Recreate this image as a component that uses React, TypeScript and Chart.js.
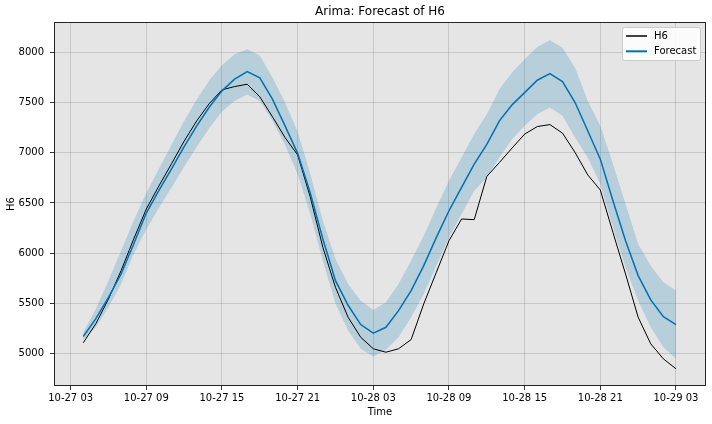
import { useEffect, useRef } from "react";
import { Chart, registerables } from "chart.js";

Chart.register(...registerables);

// hours counted from 10-27 00:00
const hours = [
  4, 5, 6, 7, 8, 9, 10, 11, 12, 13, 14, 15, 16, 17, 18, 19, 20, 21, 22, 23,
  24, 25, 26, 27, 28, 29, 30, 31, 32, 33, 34, 35, 36, 37, 38, 39, 40, 41, 42, 43,
  44, 45, 46, 47, 48, 49, 50, 51,
];

const h6 = [
  5110, 5300, 5545, 5827, 6142, 6440, 6670, 6890, 7115, 7317, 7490, 7625, 7658, 7681, 7556, 7358,
  7151, 6978, 6560, 6059, 5661, 5364, 5165, 5050, 5016, 5050, 5142, 5497, 5811, 6125, 6341, 6334,
  6764, 6903, 7046, 7185, 7260, 7280, 7195, 7002, 6780, 6629, 6208, 5794, 5364, 5099, 4950, 4851,
];

const forecast = [
  5172, 5350, 5562, 5794, 6092, 6400, 6625, 6840, 7060, 7267, 7455, 7615, 7731, 7807, 7744, 7532,
  7267, 6994, 6600, 6142, 5728, 5483, 5291, 5205, 5264, 5430, 5629, 5877, 6158, 6423, 6655, 6887,
  7082, 7317, 7476, 7598, 7721, 7787, 7708, 7499, 7218, 6936, 6522, 6125, 5778, 5536, 5370, 5291,
];

const upper = [
  5215, 5445, 5728, 6026, 6323, 6600, 6840, 7080, 7315, 7530, 7720, 7870, 7979, 8029, 7966, 7747,
  7500, 7208, 6790, 6324, 5943, 5695, 5529, 5437, 5513, 5695, 5927, 6175, 6456, 6721, 6953, 7185,
  7383, 7632, 7797, 7930, 8052, 8118, 8045, 7846, 7516, 7268, 6887, 6490, 6092, 5877, 5711, 5629,
];

const lower = [
  5140, 5265, 5463, 5695, 5993, 6240, 6450, 6655, 6860, 7060, 7245, 7410, 7515, 7580, 7515, 7317,
  7077, 6787, 6390, 5926, 5497, 5231, 5050, 4973, 5040, 5165, 5364, 5596, 5877, 6158, 6390, 6622,
  6754, 6953, 7135, 7267, 7383, 7450, 7367, 7151, 6953, 6688, 6257, 5860, 5529, 5265, 5066, 4950,
];

const xTickHours = [3, 9, 15, 21, 27, 33, 39, 45, 51];
const xTickLabels = [
  "10-27 03", "10-27 09", "10-27 15", "10-27 21", "10-28 03",
  "10-28 09", "10-28 15", "10-28 21", "10-29 03",
];
const yTicks = [5000, 5500, 6000, 6500, 7000, 7500, 8000];

const FONT = "'DejaVu Sans', sans-serif";
const BLUE = "#0072B2";

const toPts = (vals: number[]) => vals.map((v, i) => ({ x: hours[i], y: v }));

const decor = {
  id: "decor",
  beforeDraw(chart: any) {
    const { ctx, chartArea: a } = chart;
    ctx.save();
    ctx.fillStyle = "#ffffff";
    ctx.fillRect(0, 0, chart.width, chart.height);
    ctx.fillStyle = "#e5e5e5";
    ctx.fillRect(a.left, a.top, a.right - a.left, a.bottom - a.top);
    ctx.restore();
  },
  afterDraw(chart: any) {
    const { ctx, chartArea: a } = chart;
    ctx.save();
    // frame
    ctx.strokeStyle = "#262626";
    ctx.lineWidth = 1;
    ctx.strokeRect(a.left + 0.5, a.top + 0.5, a.right - a.left - 1, a.bottom - a.top - 1);
    // title
    ctx.fillStyle = "#000";
    ctx.font = `12px ${FONT}`;
    ctx.textAlign = "center";
    ctx.textBaseline = "middle";
    ctx.fillText("Arima: Forecast of H6", (a.left + a.right) / 2, 12);
    // legend
    const items = chart.data.datasets.filter((d: any) => d.showInLegend);
    const bx = 622.5, by = 27.5, bw = 78, bh = 33;
    ctx.fillStyle = "rgba(255,255,255,0.85)";
    ctx.strokeStyle = "#cccccc";
    ctx.beginPath();
    ctx.roundRect(bx, by, bw, bh, 2);
    ctx.fill();
    ctx.stroke();
    ctx.font = `10px ${FONT}`;
    ctx.textAlign = "left";
    items.forEach((d: any, i: number) => {
      const y = 36 + i * 15.3;
      ctx.strokeStyle = d.borderColor;
      ctx.lineWidth = d.borderWidth + 0.5;
      ctx.beginPath();
      ctx.moveTo(626, y);
      ctx.lineTo(647, y);
      ctx.stroke();
      ctx.fillStyle = "#000";
      ctx.fillText(d.label, 654, y);
    });
    ctx.restore();
  },
};

export default function App() {
  const ref = useRef<HTMLCanvasElement | null>(null);

  useEffect(() => {
    document.body.style.margin = "0";
    if (!ref.current) return;
    const chart = new Chart(ref.current, {
      type: "line",
      data: {
        datasets: [
          {
            label: "upper",
            data: toPts(upper),
            borderColor: "transparent",
            borderWidth: 0,
            pointRadius: 0,
            fill: false,
            order: 10,
          },
          {
            label: "lower",
            data: toPts(lower),
            borderColor: "transparent",
            borderWidth: 0,
            pointRadius: 0,
            backgroundColor: "rgba(0,114,178,0.2)",
            fill: "-1",
            order: 10,
          },
          {
            label: "H6",
            data: toPts(h6),
            borderColor: "#000000",
            borderWidth: 1,
            pointRadius: 0,
            fill: false,
            order: 2,
            showInLegend: true,
          } as any,
          {
            label: "Forecast",
            data: toPts(forecast),
            borderColor: BLUE,
            borderWidth: 1.5,
            pointRadius: 0,
            fill: false,
            order: 1,
            showInLegend: true,
          } as any,
        ],
      },
      options: {
        responsive: false,
        animation: false,
        events: [],
        layout: { padding: { left: 0, right: 6, top: 22, bottom: 0 } },
        plugins: {
          legend: { display: false },
          title: { display: false },
          tooltip: { enabled: false },
        },
        scales: {
          x: {
            type: "linear",
            min: 1.68,
            max: 53.38,
            afterBuildTicks: (s: any) => {
              s.ticks = xTickHours.map((v) => ({ value: v }));
            },
            afterFit: (s: any) => {
              s.height = 38;
            },
            ticks: {
              autoSkip: false,
              maxRotation: 0,
              padding: 2,
              color: "#000",
              font: { family: FONT, size: 10 },
              callback: (v: any) => {
                const i = xTickHours.indexOf(Number(v));
                return i >= 0 ? xTickLabels[i] : "";
              },
            },
            grid: {
              color: "rgba(128,128,128,0.3)",
              tickColor: "#333",
              tickLength: 4,
              lineWidth: 1,
            },
            border: { display: false },
            title: {
              display: true,
              text: "Time",
              color: "#000",
              font: { family: FONT, size: 10 },
              padding: { top: 0, bottom: 6 },
            },
          },
          y: {
            type: "linear",
            min: 4680,
            max: 8300,
            afterBuildTicks: (s: any) => {
              s.ticks = yTicks.map((v) => ({ value: v }));
            },
            afterFit: (s: any) => {
              s.width = 54;
            },
            ticks: {
              padding: 6,
              color: "#000",
              font: { family: FONT, size: 10 },
              callback: (v: any) => String(v),
            },
            grid: {
              color: "rgba(128,128,128,0.3)",
              tickColor: "#333",
              tickLength: 4,
              lineWidth: 1,
            },
            border: { display: false },
            title: {
              display: true,
              text: "H6",
              color: "#000",
              font: { family: FONT, size: 10 },
              padding: { top: 5, bottom: 0 },
            },
          },
        },
      },
      plugins: [decor],
    });
    return () => chart.destroy();
  }, []);

  return (
    <div style={{ position: "absolute", left: 0, top: 0, width: 712, height: 424 }}>
      <canvas ref={ref} width={712} height={424} />
    </div>
  );
}
